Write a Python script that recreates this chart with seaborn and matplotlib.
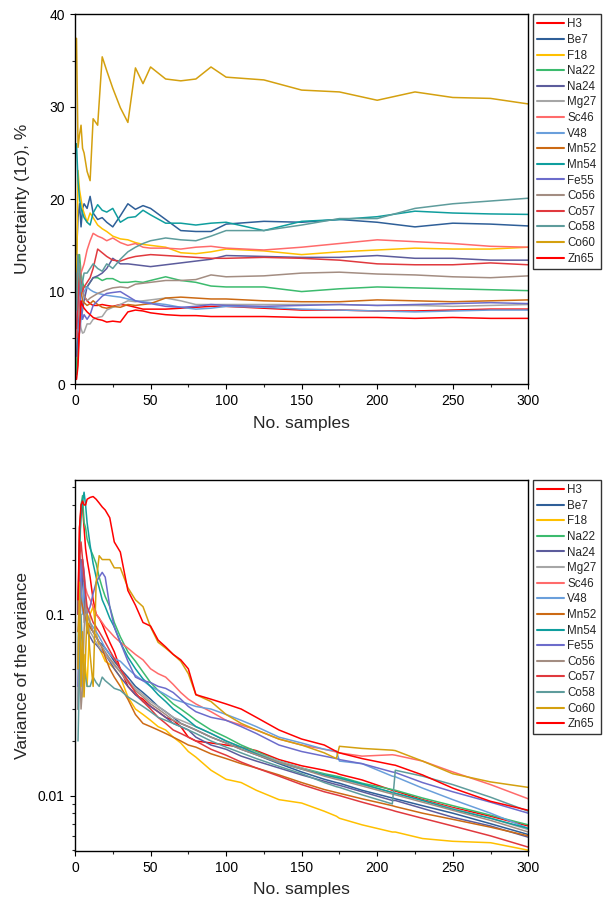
import numpy as np
import pandas as pd
import matplotlib
matplotlib.use('Agg')
import matplotlib.pyplot as plt
import seaborn as sns
from matplotlib.ticker import MultipleLocator, LogLocator, FixedLocator, FixedFormatter, NullFormatter

sns.set_style('ticks')
plt.rcParams['font.family'] = ['Liberation Sans', 'DejaVu Sans']

NUCLIDES = ['H3', 'Be7', 'F18', 'Na22', 'Na24', 'Mg27', 'Sc46', 'V48',
            'Mn52', 'Mn54', 'Fe55', 'Co56', 'Co57', 'Co58', 'Co60', 'Zn65']
COLORS = ['#FF0000', '#2F5F98', '#FFC000', '#3CBB6E', '#5C5C9C', '#A6A6A6',
          '#FF6B6B', '#6A9FDB', '#CC6A14', '#0F9E9E', '#6C6CCB', '#A38D82',
          '#E0393E', '#5E9C9C', '#D4A00F', '#FF0000']

# ---------------- top panel: uncertainty (1 sigma), % ----------------
X_TOP = [1, 2, 3, 4, 5, 6, 8, 10, 12, 15, 18, 21, 25, 30, 35, 40, 45, 50, 60, 70,
         80, 90, 100, 125, 150, 175, 200, 225, 250, 275, 300]
H3_TOP = [1.5, 3, 8, 11, 10, 9.5, 9, 8.7, 8.5, 8.5, 8.6, 8.5, 8.4, 8.6, 8.5, 8.3, 8.1, 8.1, 8.1, 8.2,
          8.3, 8.4, 8.4, 8.2, 8.0, 8.0, 7.9, 7.9, 8.0, 8.1, 8.1]
BE7_TOP = [14, 18, 19.5, 17, 19, 19.5, 19, 20.3, 18.5, 17.8, 18.0, 17.5, 17.0, 18.2, 19.5, 18.9, 19.3, 19.0, 17.8, 16.6,
           16.5, 16.5, 17.3, 17.6, 17.5, 17.8, 17.5, 17.0, 17.4, 17.3, 17.1]
F18_TOP = [10, 23.1, 21, 20, 19, 18.5, 17.5, 18.5, 18.0, 17.2, 16.8, 16.5, 16.0, 15.7, 15.6, 15.3, 15.1, 15.0, 14.8, 14.2,
           14.1, 14.3, 14.6, 14.4, 14.0, 14.3, 14.5, 14.7, 14.6, 14.6, 14.8]
NA22_TOP = [1.0, 8, 14, 12, 11, 10.5, 10.5, 11, 11.5, 11.5, 11.2, 11.4, 11.4, 11.0, 11.0, 11.1, 11.0, 11.2, 11.6, 11.2,
            11.0, 10.6, 10.5, 10.5, 10.0, 10.3, 10.5, 10.4, 10.3, 10.2, 10.1]
NA24_TOP = [3, 6, 8, 7, 8, 9, 10.5, 11, 11.5, 11.7, 12.0, 12.5, 13.6, 13.0, 13.0, 12.9, 12.8, 12.7, 12.9, 13.1,
            13.3, 13.5, 13.9, 13.8, 13.7, 13.7, 13.9, 13.6, 13.6, 13.4, 13.4]
MG27_TOP = [12, 10, 7, 6, 5.5, 5.6, 6.5, 6.5, 7.0, 7.2, 7.3, 8.0, 8.3, 8.6, 9.0, 8.9, 9.0, 9.1, 9.3, 9.0,
            8.6, 8.6, 8.6, 8.6, 8.6, 8.6, 8.5, 8.5, 8.4, 8.5, 8.6]
SC46_TOP = [5, 9, 11, 12, 12.5, 13, 14.5, 15.5, 16.3, 16.0, 15.8, 15.5, 15.8, 15.3, 15.0, 15.2, 14.8, 14.7, 14.7, 14.6,
            14.8, 14.9, 14.7, 14.5, 14.8, 15.2, 15.6, 15.4, 15.2, 14.9, 14.8]
V48_TOP = [9, 6, 5.5, 7, 9, 10, 10.5, 10.2, 10.0, 9.8, 9.7, 9.6, 9.5, 9.4, 9.2, 9.0, 8.9, 8.8, 8.6, 8.3,
           8.1, 8.2, 8.4, 8.3, 8.1, 8.0, 7.9, 7.8, 7.9, 8.0, 8.0]
MN52_TOP = [9, 14, 12, 10, 9, 8.8, 8.5, 8.7, 9.0, 8.6, 8.3, 8.2, 8.4, 8.3, 8.6, 8.5, 8.6, 8.7, 9.3, 9.4,
            9.3, 9.2, 9.2, 9.0, 8.9, 8.9, 9.1, 9.0, 8.9, 9.0, 9.1]
MN54_TOP = [26, 22, 20, 19, 18.5, 18, 17.5, 17.2, 18.5, 19.4, 18.8, 18.6, 19.0, 17.5, 18.0, 18.1, 18.8, 18.3, 17.4, 17.4,
            17.2, 17.4, 17.5, 16.6, 17.6, 17.8, 18.1, 18.7, 18.5, 18.4, 18.35]
FE55_TOP = [6, 9, 11, 8, 7, 7.5, 7.0, 7.5, 8.5, 9.0, 9.5, 9.8, 9.9, 10.0, 9.5, 9.0, 8.8, 8.7, 8.4, 8.3,
            8.4, 8.6, 8.5, 8.4, 8.5, 8.6, 8.5, 8.6, 8.7, 8.8, 8.7]
CO56_TOP = [10, 12, 13, 11, 10, 9.5, 9, 9.3, 9.5, 9.8, 10.0, 10.2, 10.4, 10.5, 10.4, 10.8, 10.9, 11.0, 11.2, 11.2,
            11.3, 11.8, 11.6, 11.7, 12.0, 12.1, 11.9, 11.8, 11.6, 11.5, 11.7]
CO57_TOP = [6, 9, 12, 11, 10, 10.5, 11, 11.5, 12.5, 14.6, 14.2, 13.8, 13.4, 13.3, 13.6, 13.8, 13.9, 14.0, 13.9, 13.8,
            13.7, 13.6, 13.6, 13.7, 13.6, 13.4, 13.0, 12.9, 12.9, 13.1, 12.9]
CO58_TOP = [8, 14, 12, 10, 11, 12, 12, 12.5, 13, 12.5, 12.2, 13.0, 12.5, 13.5, 14.3, 14.8, 15.2, 15.5, 15.8, 15.6,
            15.5, 16.0, 16.6, 16.6, 17.2, 17.9, 17.9, 19.0, 19.5, 19.8, 20.1]
CO60_TOP = [37.4, 25.6, 27, 28.0, 25.5, 25.0, 23, 22.0, 28.7, 28, 35.4, 33.9, 32.0, 29.9, 28.3, 34.2, 32.5, 34.3, 33.0, 32.8,
            33.0, 34.3, 33.2, 32.9, 31.8, 31.6, 30.7, 31.6, 31.0, 30.9, 30.3]
ZN65_TOP = [0.5, 2, 6, 9, 8.5, 8.2, 7.8, 7.5, 7.2, 7.0, 6.9, 6.7, 6.8, 6.7, 7.8, 8.0, 7.9, 7.7, 7.5, 7.4,
            7.4, 7.3, 7.3, 7.3, 7.2, 7.2, 7.2, 7.1, 7.2, 7.1, 7.1]

# ---------------- bottom panel: variance of the variance ----------------
X_BOT = [2, 3, 4, 5, 6, 7, 8, 10, 12, 14, 16, 18, 20, 23, 26, 30, 35, 40, 45, 50, 55, 60, 65, 70, 75, 80,
         90, 100, 110, 120, 135, 150, 165, 173, 175, 190, 210, 212, 230, 250, 275, 300]
H3_BOT = [0.1, 0.3, 0.38, 0.39, 0.3, 0.23, 0.2, 0.16, 0.12, 0.1, 0.095, 0.088, 0.08,
          0.07, 0.062, 0.05, 0.04, 0.036, 0.034, 0.031, 0.029, 0.027, 0.026, 0.024, 0.021, 0.020,
          0.0195, 0.019, 0.0185, 0.0177, 0.0158, 0.0146, 0.0138, 0.0133, 0.0131, 0.0122, 0.0107, 0.0106,
          0.0095, 0.0086, 0.0077, 0.0068]
BE7_BOT = [0.05, 0.15, 0.2, 0.17, 0.12, 0.1, 0.09, 0.085, 0.08, 0.075, 0.07, 0.068, 0.065,
           0.06, 0.055, 0.05, 0.045, 0.04, 0.037, 0.034, 0.031, 0.029, 0.027, 0.025, 0.024, 0.023,
           0.021, 0.0195, 0.018, 0.0168, 0.015, 0.0135, 0.0123, 0.0118, 0.0117, 0.0107, 0.0097, 0.0096,
           0.0088, 0.008, 0.007, 0.0061]
F18_BOT = [0.03, 0.09, 0.05, 0.035, 0.06, 0.05, 0.04, 0.1, 0.11, 0.08, 0.065, 0.06, 0.055,
           0.053, 0.05, 0.045, 0.035, 0.030, 0.028, 0.026, 0.024, 0.023, 0.021, 0.0195, 0.0175, 0.0163,
           0.0138, 0.0123, 0.0118, 0.0107, 0.0095, 0.0091, 0.0082, 0.0077, 0.0075, 0.0069, 0.0063, 0.0063,
           0.0058, 0.0056, 0.0055, 0.0050]
NA22_BOT = [0.05, 0.2, 0.4, 0.45, 0.32, 0.3, 0.26, 0.23, 0.21, 0.19, 0.16, 0.14, 0.125,
            0.11, 0.09, 0.075, 0.062, 0.055, 0.048, 0.042, 0.038, 0.035, 0.032, 0.030, 0.028, 0.026,
            0.023, 0.021, 0.019, 0.0175, 0.0155, 0.0142, 0.0132, 0.0128, 0.0127, 0.0117, 0.0108, 0.0107,
            0.0097, 0.0088, 0.0078, 0.0069]
NA24_BOT = [0.1, 0.21, 0.18, 0.15, 0.12, 0.1, 0.08, 0.075, 0.07, 0.068, 0.065, 0.062, 0.06,
            0.055, 0.05, 0.045, 0.04, 0.036, 0.033, 0.031, 0.029, 0.027, 0.025, 0.024, 0.023, 0.021,
            0.019, 0.018, 0.0165, 0.0155, 0.0142, 0.013, 0.012, 0.0115, 0.0114, 0.0105, 0.0094, 0.0094,
            0.0085, 0.0076, 0.0068, 0.0059]
MG27_BOT = [0.03, 0.1, 0.15, 0.12, 0.09, 0.1, 0.09, 0.08, 0.075, 0.07, 0.066, 0.063, 0.06,
            0.056, 0.052, 0.048, 0.043, 0.039, 0.036, 0.033, 0.031, 0.029, 0.027, 0.026, 0.025, 0.024,
            0.022, 0.02, 0.0185, 0.0172, 0.0155, 0.0142, 0.013, 0.0125, 0.0124, 0.0115, 0.0104, 0.0103,
            0.0094, 0.0085, 0.0075, 0.0065]
SC46_BOT = [0.05, 0.12, 0.15, 0.2, 0.17, 0.14, 0.13, 0.12, 0.11, 0.1, 0.095, 0.09, 0.085,
            0.08, 0.075, 0.07, 0.065, 0.06, 0.056, 0.05, 0.047, 0.045, 0.041, 0.037, 0.034, 0.032,
            0.029, 0.026, 0.0245, 0.023, 0.0205, 0.019, 0.018, 0.0174, 0.0172, 0.0165, 0.0168, 0.0167,
            0.0155, 0.0135, 0.0115, 0.0096]
V48_BOT = [0.03, 0.2, 0.13, 0.1, 0.15, 0.12, 0.1, 0.09, 0.085, 0.08, 0.075, 0.07, 0.065,
           0.06, 0.057, 0.055, 0.05, 0.046, 0.043, 0.04, 0.038, 0.036, 0.034, 0.033, 0.032, 0.031,
           0.030, 0.028, 0.026, 0.024, 0.021, 0.0195, 0.018, 0.0176, 0.0155, 0.015, 0.0128, 0.0127,
           0.011, 0.0095, 0.008, 0.0066]
MN52_BOT = [0.08, 0.13, 0.12, 0.11, 0.1, 0.095, 0.09, 0.085, 0.08, 0.075, 0.07, 0.065, 0.058,
            0.05, 0.045, 0.04, 0.034, 0.028, 0.025, 0.024, 0.023, 0.022, 0.021, 0.02, 0.019, 0.0185,
            0.017, 0.016, 0.015, 0.0142, 0.013, 0.0118, 0.0108, 0.0104, 0.0103, 0.0096, 0.0088, 0.0087,
            0.008, 0.0074, 0.0067, 0.006]
MN54_BOT = [0.1, 0.25, 0.35, 0.42, 0.47, 0.4, 0.32, 0.24, 0.19, 0.16, 0.14, 0.12, 0.11,
            0.095, 0.085, 0.07, 0.058, 0.05, 0.044, 0.04, 0.036, 0.033, 0.03, 0.028, 0.026, 0.024,
            0.022, 0.02, 0.0185, 0.017, 0.0152, 0.014, 0.013, 0.0126, 0.0125, 0.0116, 0.0104, 0.0103,
            0.0094, 0.0084, 0.0075, 0.0066]
FE55_BOT = [0.04, 0.08, 0.15, 0.2, 0.17, 0.12, 0.1, 0.11, 0.13, 0.15, 0.16, 0.17, 0.16,
            0.11, 0.085, 0.07, 0.055, 0.045, 0.043, 0.042, 0.04, 0.039, 0.037, 0.034, 0.031, 0.029,
            0.027, 0.026, 0.024, 0.022, 0.019, 0.0175, 0.0165, 0.016, 0.0158, 0.015, 0.0135, 0.0134,
            0.0118, 0.0105, 0.0092, 0.008]
CO56_BOT = [0.03, 0.06, 0.03, 0.04, 0.08, 0.12, 0.1, 0.09, 0.08, 0.075, 0.07, 0.066, 0.062,
            0.057, 0.053, 0.048, 0.042, 0.038, 0.035, 0.032, 0.03, 0.028, 0.026, 0.025, 0.024, 0.023,
            0.021, 0.0195, 0.018, 0.0168, 0.0152, 0.014, 0.0128, 0.0123, 0.0122, 0.0113, 0.0102, 0.0101,
            0.0092, 0.0083, 0.0073, 0.0063]
CO57_BOT = [0.1, 0.2, 0.25, 0.2, 0.16, 0.13, 0.11, 0.1, 0.09, 0.085, 0.08, 0.075, 0.07,
            0.063, 0.057, 0.05, 0.043, 0.037, 0.033, 0.03, 0.027, 0.025, 0.023, 0.022, 0.021, 0.02,
            0.018, 0.0167, 0.0153, 0.0142, 0.0128, 0.0115, 0.0105, 0.0101, 0.01, 0.0092, 0.0083, 0.0082,
            0.0075, 0.0068, 0.006, 0.0052]
CO58_BOT = [0.02, 0.05, 0.1, 0.06, 0.05, 0.045, 0.04, 0.04, 0.045, 0.042, 0.04, 0.045, 0.043,
            0.041, 0.039, 0.038, 0.035, 0.033, 0.031, 0.029, 0.027, 0.026, 0.025, 0.024, 0.023, 0.022,
            0.02, 0.0185, 0.0172, 0.016, 0.0145, 0.0132, 0.0118, 0.0112, 0.0111, 0.0101, 0.009, 0.0138,
            0.0128, 0.0115, 0.0098, 0.0082]
CO60_BOT = [0.05, 0.15, 0.04, 0.08, 0.035, 0.06, 0.1, 0.06, 0.04, 0.15, 0.21, 0.2, 0.2,
            0.2, 0.18, 0.18, 0.14, 0.12, 0.11, 0.085, 0.07, 0.065, 0.06, 0.055, 0.047, 0.036,
            0.033, 0.028, 0.025, 0.023, 0.0205, 0.019, 0.0172, 0.016, 0.0187, 0.0182, 0.0178, 0.0177,
            0.0155, 0.0132, 0.0119, 0.0111]
ZN65_BOT = [0.12, 0.3, 0.4, 0.42, 0.4, 0.4, 0.43, 0.44, 0.445, 0.43, 0.41, 0.39, 0.375,
            0.34, 0.25, 0.22, 0.135, 0.112, 0.09, 0.086, 0.072, 0.066, 0.06, 0.056, 0.05, 0.036,
            0.034, 0.032, 0.030, 0.027, 0.023, 0.0205, 0.019, 0.0175, 0.0172, 0.016, 0.0148, 0.0147,
            0.013, 0.011, 0.0093, 0.0083]

TOP_SERIES = [H3_TOP, BE7_TOP, F18_TOP, NA22_TOP, NA24_TOP, MG27_TOP, SC46_TOP, V48_TOP,
              MN52_TOP, MN54_TOP, FE55_TOP, CO56_TOP, CO57_TOP, CO58_TOP, CO60_TOP, ZN65_TOP]
BOT_SERIES = [H3_BOT, BE7_BOT, F18_BOT, NA22_BOT, NA24_BOT, MG27_BOT, SC46_BOT, V48_BOT,
              MN52_BOT, MN54_BOT, FE55_BOT, CO56_BOT, CO57_BOT, CO58_BOT, CO60_BOT, ZN65_BOT]


def long_df(x, series):
    rows = []
    for name, ys in zip(NUCLIDES, series):
        for xv, yv in zip(x, ys):
            rows.append((name, xv, yv))
    return pd.DataFrame(rows, columns=['nuclide', 'samples', 'value'])


df_top = long_df(X_TOP, TOP_SERIES)
df_bot = long_df(X_BOT, BOT_SERIES)
pal = dict(zip(NUCLIDES, COLORS))

W, H = 603, 901
fig = plt.figure(figsize=(W / 100, H / 100), dpi=100)
ax1 = fig.add_axes([75 / W, 1 - 384 / H, 453.3 / W, 369.7 / H])
ax2 = fig.add_axes([75 / W, 1 - 850.7 / H, 453.3 / W, 370.7 / H])

for ax, df in ((ax1, df_top), (ax2, df_bot)):
    sns.lineplot(data=df, x='samples', y='value', hue='nuclide', hue_order=NUCLIDES,
                 palette=pal, estimator=None, sort=False, lw=1.1, ax=ax)

ax2.set_yscale('log')

# axes limits & ticks
for ax in (ax1, ax2):
    ax.set_xlim(0, 300)
    ax.xaxis.set_major_locator(MultipleLocator(50))
    ax.xaxis.set_minor_locator(MultipleLocator(25))
    ax.tick_params(axis='both', which='major', direction='out', length=3.8, width=0.8,
                   labelsize=10, colors='black', top=False, right=False)
    ax.tick_params(axis='both', which='minor', direction='out', length=2.2, width=0.8,
                   top=False, right=False)
    for sp in ax.spines.values():
        sp.set_visible(True)
        sp.set_color('black')
        sp.set_linewidth(1.0)
    ax.set_xlabel('No. samples', fontsize=12.5, labelpad=5.5)

ax1.set_ylim(0, 40)
ax1.yaxis.set_major_locator(MultipleLocator(10))
ax1.yaxis.set_minor_locator(MultipleLocator(5))
ax1.set_ylabel('Uncertainty (1σ), %', fontsize=12.5)

ax2.set_ylim(0.00497, 0.549)
ax2.yaxis.set_major_locator(FixedLocator([0.01, 0.1]))
ax2.yaxis.set_major_formatter(FixedFormatter(['0.01', '0.1']))
ax2.yaxis.set_minor_locator(LogLocator(base=10, subs=np.arange(2, 10)))
ax2.yaxis.set_minor_formatter(NullFormatter())
ax2.set_ylabel('Variance of the variance', fontsize=12.5)

for ax in (ax1, ax2):
    ax.yaxis.set_label_coords(-45 / 453.3, 0.5)

for ax in (ax1, ax2):
    handles, labels = ax.get_legend_handles_labels()
    if ax.get_legend() is not None:
        ax.get_legend().remove()
    leg = ax.legend(handles, labels, loc='upper left', bbox_to_anchor=(1.01, 1.0),
                    borderaxespad=0, frameon=True, fancybox=False, edgecolor='black',
                    fontsize=8.4, handlelength=2.3, labelspacing=0.31, handletextpad=0.3,
                    borderpad=0.35)
    leg.get_frame().set_linewidth(1.0)
    for ln in leg.get_lines():
        ln.set_linewidth(1.5)

fig.savefig('out.png', dpi=100)
